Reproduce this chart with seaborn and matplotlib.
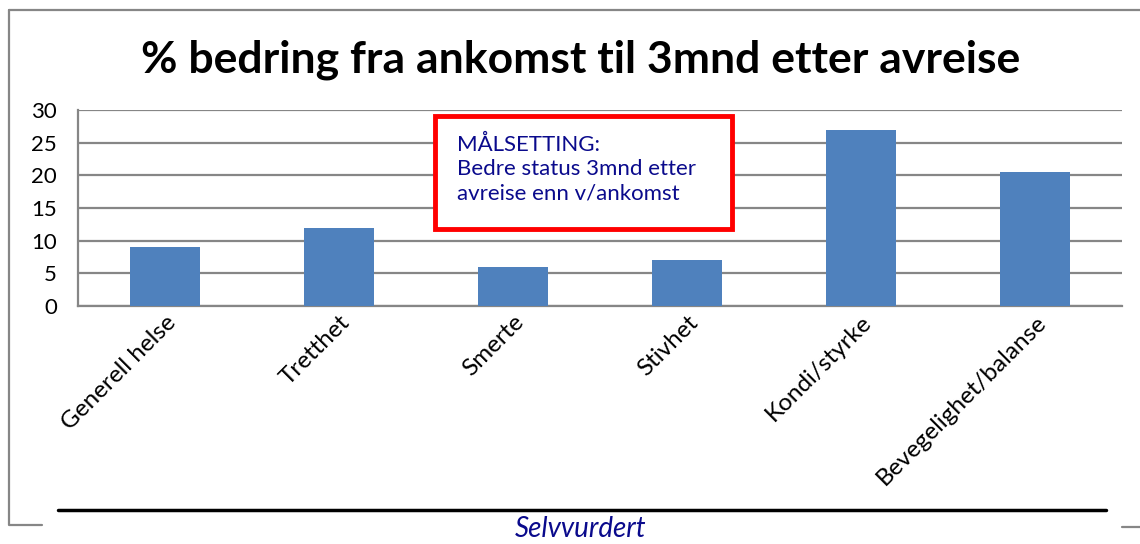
import matplotlib
matplotlib.use("Agg")
import matplotlib.pyplot as plt
import seaborn as sns
import pandas as pd
from matplotlib.lines import Line2D
from matplotlib.patches import Rectangle

categories = ["Generell helse", "Tretthet", "Smerte", "Stivhet", "Kondi/styrke", "Bevegelighet/balanse"]
values = [9, 12, 6, 7, 27, 20.5]
yticks = [0, 5, 10, 15, 20, 25, 30]

title = "% bedring fra ankomst til 3mnd etter avreise"
note = "MÅLSETTING:\nBedre status 3mnd etter\navreise enn v/ankomst"
xlabel = "Selvvurdert"

sns.set_style("white")
plt.rcParams["font.family"] = ["Lato", "DejaVu Sans"]

df = pd.DataFrame({"kategori": categories, "bedring": values})

W, H = 1140, 544
fig = plt.figure(figsize=(W / 100, H / 100), dpi=100)
ax = fig.add_axes([78 / W, 1 - 306 / H, (1122 - 78) / W, (306 - 110) / H])

sns.barplot(data=df, x="kategori", y="bedring", color="#4F81BD", width=0.4,
            saturation=1, linewidth=0, ax=ax, zorder=3)

grey = "#868686"
ax.set_ylim(0, 30)
ax.set_xlim(-0.5, len(categories) - 0.5)
ax.set_yticks(yticks)
ax.yaxis.grid(True, color=grey, linewidth=1.6, zorder=0)
ax.set_axisbelow(True)
for s in ["top", "right"]:
    ax.spines[s].set_visible(False)
for s in ["left", "bottom"]:
    ax.spines[s].set_color(grey)
    ax.spines[s].set_linewidth(1.6)

ax.tick_params(axis="y", length=10, width=1.6, color=grey, labelsize=16,
               labelcolor="black", pad=5)
ax.set_xticks([i - 0.5 for i in range(len(categories) + 1)], minor=True)
ax.tick_params(axis="x", which="minor", length=8, width=1.6, color=grey)
ax.tick_params(axis="x", which="major", length=0, labelsize=17.5,
               labelcolor="black", pad=4)
ax.set_xticks(range(len(categories)))
ax.set_xticklabels(categories, rotation=45, ha="right", rotation_mode="anchor")
ax.set_xlabel("")
ax.set_ylabel("")

fig.text(581 / W, 1 - 60 / H, title, ha="center", va="center",
         fontsize=32, fontweight="bold", color="black")

# note box
fig.add_artist(Rectangle((435 / W, 1 - 229 / H), 297 / W, 113 / H,
                         transform=fig.transFigure, fill=True, facecolor="white",
                         edgecolor="#FF0000", linewidth=3.5, zorder=5))
fig.text(457 / W, 1 - 169 / H, note, ha="left", va="center", fontsize=16,
         color="#0A0A8C", linespacing=1.25, zorder=6)

# chart frame and axis-title rule
fig.add_artist(Line2D([9 / W, 9 / W, 42 / W], [1 - 10 / H, 1 - 525 / H, 1 - 525 / H],
                      color=grey, linewidth=1.6))
fig.add_artist(Line2D([9 / W, 1.0], [1 - 10 / H, 1 - 10 / H], color=grey, linewidth=1.6))
fig.add_artist(Line2D([1122 / W, 1.0], [1 - 527 / H, 1 - 527 / H], color=grey, linewidth=1.6))
fig.add_artist(Line2D([58 / W, 1106 / W], [1 - 510 / H, 1 - 510 / H], color="black", linewidth=2.5))

fig.text(581 / W, 2 / H, xlabel, ha="center", va="bottom", fontsize=20,
         fontstyle="italic", color="#0A0A8C")

fig.savefig("out.png", dpi=100)
